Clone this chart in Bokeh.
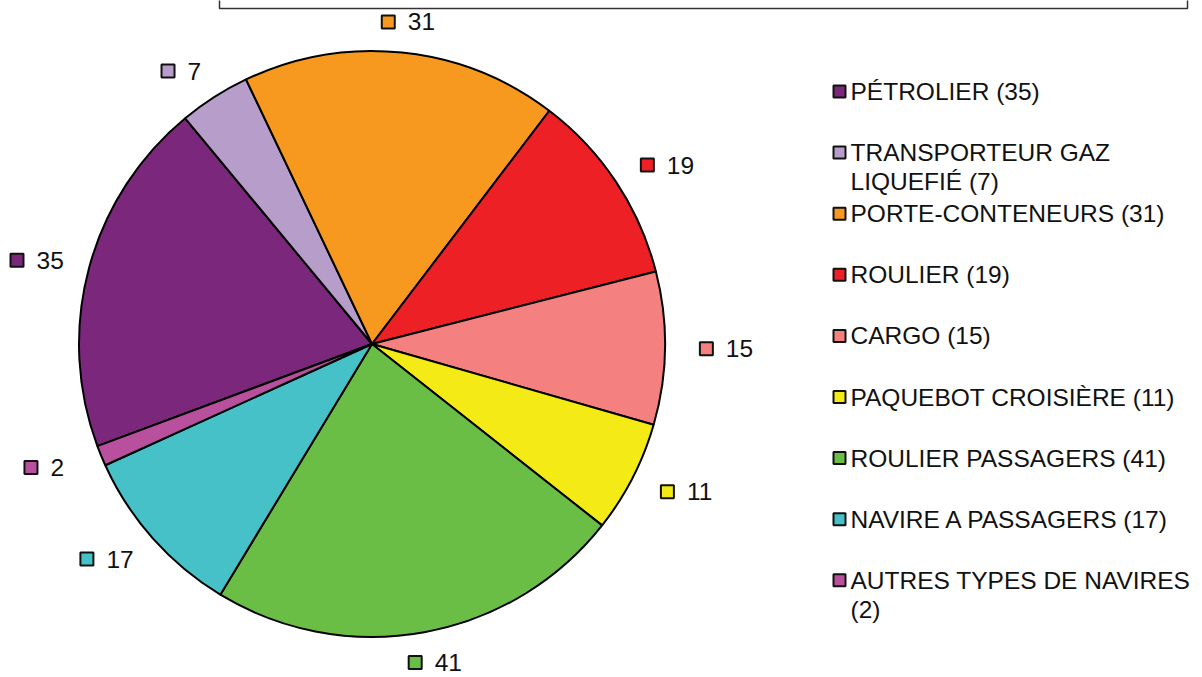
import math
from bokeh.plotting import figure
from bokeh.models import Range1d, ColumnDataSource
from bokeh.embed import file_html
from bokeh.resources import INLINE
from bokeh.core.properties import value

# ---- data ----
categories = ["PÉTROLIER", "TRANSPORTEUR GAZ\nLIQUEFIÉ", "PORTE-CONTENEURS", "ROULIER",
              "CARGO", "PAQUEBOT CROISIÈRE", "ROULIER PASSAGERS", "NAVIRE A PASSAGERS",
              "AUTRES TYPES DE NAVIRES\n"]
counts = [35, 7, 31, 19, 15, 11, 41, 17, 2]
colors = ["#7B277C", "#B79DC9", "#F7991F", "#ED2125", "#F48080",
          "#F4EA15", "#6BBE45", "#45C1C7", "#B8509E"]

# ---- layout ----
W, H = 1202, 677
FONT = "Liberation Sans"
FS = 24.5
cx, cy, R = 371.5, 677 - 343.5, 293.0
first_angle = -110.4  # degrees, clockwise from top
rx, ry = 1.21 * R, 1.105 * R

p = figure(width=W, height=H, output_backend="svg", toolbar_location=None,
           x_range=Range1d(0, W), y_range=Range1d(0, H),
           min_border=0, background_fill_color="white", border_fill_color="white")
p.axis.visible = False
p.grid.visible = False
p.outline_line_color = None

total = sum(counts)
starts, ends, mids = [], [], []
cum = 0
for c in counts:
    a0 = first_angle + cum / total * 360.0
    cum += c
    a1 = first_angle + cum / total * 360.0
    starts.append(a0); ends.append(a1); mids.append((a0 + a1) / 2)

# bokeh: anticlockwise from +x; convert cw-from-top
src = ColumnDataSource(dict(
    start=[math.radians(90 - e) for e in ends],
    end=[math.radians(90 - s) for s in starts],
    color=colors))
p.wedge(x=cx, y=cy, radius=R, start_angle="start", end_angle="end",
        fill_color="color", line_color="black", line_width=2, source=src)

# ---- data labels (marker + value, outside the slice) ----
mk_x, mk_y, tx, ty, tt = [], [], [], [], []
for c, m in zip(counts, mids):
    lx = cx + rx * math.sin(math.radians(m))
    ly = cy + ry * math.cos(math.radians(m))
    tw = len(str(c)) * 0.556 * FS
    gw = 26 + tw
    left = max(lx - gw / 2, 10)
    mk_x.append(left + 6.5); mk_y.append(ly)
    tx.append(left + 26); ty.append(ly); tt.append(str(c))
p.scatter(x=mk_x, y=mk_y, marker="square", size=13, fill_color=colors,
          line_color="#111111", line_width=2)
p.text(x=tx, y=ty, text=tt, text_font=value(FONT), text_font_size=f"{FS}px",
       text_baseline="middle", text_align="left", text_color="#111111")

# ---- legend ----
leg_top = H - 91
step = 61.1
lmx, lmy, ltx, lty, ltt = [], [], [], [], []
for i, (name, c) in enumerate(zip(categories, counts)):
    y0 = leg_top - i * step
    lmx.append(839); lmy.append(y0)
    lines = name.split("\n")
    lines[-1] = (lines[-1] + " " if lines[-1] else "") + f"({c})"
    for k, ln in enumerate(lines):
        ltx.append(850); lty.append(y0 - k * 29); ltt.append(ln)
p.scatter(x=lmx, y=lmy, marker="square", size=12, fill_color=colors,
          line_color="#111111", line_width=2)
p.text(x=ltx, y=lty, text=ltt, text_font=value(FONT), text_font_size=f"{FS}px",
       text_baseline="middle", text_align="left", text_color="#111111")

# ---- partial box at top (title frame, cut off) ----
p.line(x=[219, 219, 1187, 1187], y=[H + 5, H - 8, H - 8, H + 5],
       line_color="#333333", line_width=1.5)

open("out.html", "w").write(file_html(p, INLINE))
